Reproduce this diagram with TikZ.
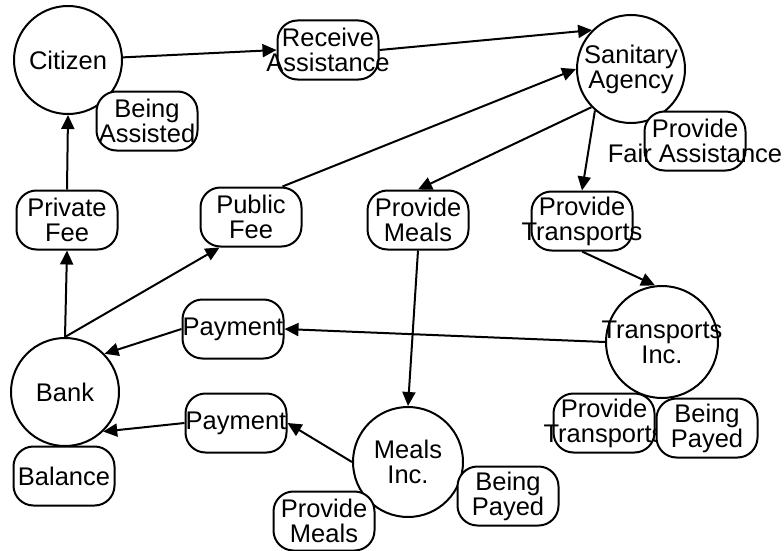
\documentclass[tikz,border=0pt]{standalone}
\usepackage{fontspec}
\setmainfont{Liberation Sans}
\usetikzlibrary{arrows.meta}
% zero-width centred line, so long words spill over the node border
\newcommand{\zl}[1]{\makebox[0pt][c]{#1}}
\begin{document}
\begin{tikzpicture}[x=1pt,y=-1pt,
  every node/.style={font=\fontsize{25.5}{25}\selectfont, align=center, inner sep=0pt},
  actor/.style={draw, line width=2pt, fill=white, circle, minimum size=108pt},
  goal/.style={draw, line width=2pt, fill=white, rectangle, rounded corners=20pt,
               minimum width=101pt, minimum height=59pt},
  link/.style={line width=2pt, -{Triangle[length=14pt,width=13pt]}}]
\useasboundingbox (0,0) rectangle (784,551);

% actors
\node[actor] (cit) at (68,60) {\zl{Citizen}};
\node[actor] (sa) at (631,69) {\zl{Sanitary}\\\zl{Agency}};
\node[actor] (bank) at (65,392) {\zl{Bank}};
\node[actor, minimum size=110pt] (mi) at (408,462) {\zl{Meals}\\\zl{Inc.}};
\node[actor, minimum size=112pt] (ti) at (662,342) {\zl{Transports}\\\zl{Inc.}};

% goals and tasks
\node[goal] (ra) at (328,50) {\zl{Receive}\\\zl{Assistance}};
\node[goal] (ba) at (147,121) {\zl{Being}\\\zl{Assisted}};
\node[goal] (privfee) at (67,220) {\zl{Private}\\\zl{Fee}};
\node[goal] (pubfee) at (251,217) {\zl{Public}\\\zl{Fee}};
\node[goal] (pmeals) at (418,220) {\zl{Provide}\\\zl{Meals}};
\node[goal] (ptrans) at (582,221) {\zl{Provide}\\\zl{Transports}};
\node[goal] (pfa) at (695,141) {\zl{Provide}\\\zl{Fair Assistance}};
\node[goal] (pay1) at (233,329) {\zl{Payment}};
\node[goal] (pay2) at (236,423) {\zl{Payment}};
\node[goal] (bal) at (64,476) {\zl{Balance}};
\node[goal] (pmeals2) at (324,521) {\zl{Provide}\\\zl{Meals}};
\node[goal] (bpm) at (508,496) {\zl{Being}\\\zl{Payed}};
\node[goal] (ptrans2) at (604,423) {\zl{Provide}\\\zl{Transports}};
\node[goal] (bpt) at (707,428) {\zl{Being}\\\zl{Payed}};

% dependencies
\draw[link] (cit) -- (ra.west);
\draw[link] (ra.east) -- (sa.135);
\draw[link] ([xshift=-20pt]pubfee.north east) -- (sa.west);
\draw[link] (sa.224) -- (pmeals.north);
\draw[link] (sa.229) -- (ptrans.north);
\draw[link] (ptrans.south) -- (ti.97);
\draw[link] (pmeals.south) -- (mi.north);
\draw[link] (ti.west) -- (pay1.east);
\draw[link] (pay1.west) -- (bank.44);
\draw[link] (mi.west) -- (pay2.east);
\draw[link] (pay2.west) -- (bank.-46);
\draw[link] (bank.north) -- (privfee.south);
\draw[link] (bank.north) -- ([xshift=20pt]pubfee.south west);
\draw[link] (privfee.north) -- (cit.south);
\end{tikzpicture}
\end{document}
